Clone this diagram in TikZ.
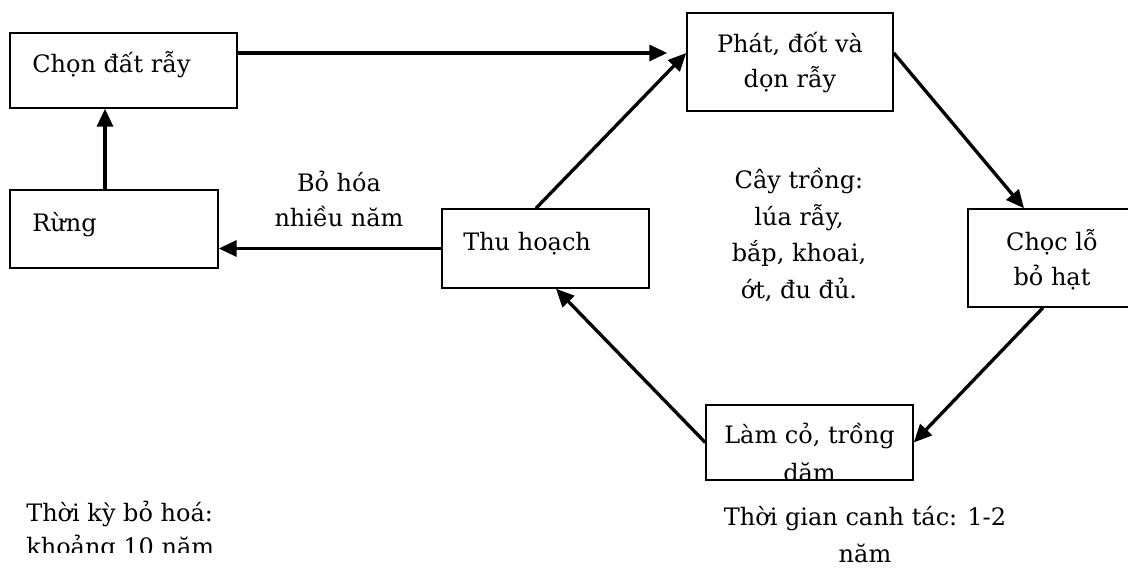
\documentclass[tikz,border=0pt]{standalone}
\usepackage{fontspec}
\setmainfont{DejaVu Serif}
\usetikzlibrary{arrows.meta,calc}
\begin{document}
\begin{tikzpicture}[x=0.75pt,y=-0.75pt]
\tikzset{
  box/.style={draw, line width=1.1pt, rectangle, inner sep=0pt},
  txt/.style={inner sep=0pt, font=\fontsize{18}{21}\selectfont},
  arr/.style={line width=2.5pt, -{Triangle[length=13.5pt,width=12pt]}},
}
\useasboundingbox (0,0) rectangle (1128,574);
\clip (0,0) rectangle (1128,574);
% boxes
\node[box, minimum width=170.25pt, minimum height=56.25pt] (chon) at (123.5,70.5) {};
\node[box, minimum width=154.5pt, minimum height=73.5pt] (phat) at (790,62) {};
\node[box, minimum width=156pt, minimum height=58.5pt] (rung) at (114,229) {};
\node[box, minimum width=155.25pt, minimum height=59.25pt] (thu) at (545.5,248.5) {};
\node[box, minimum width=126pt, minimum height=73.5pt] (choc) at (1052,258) {};
\node[box, minimum width=155.25pt, minimum height=56.25pt] (lam) at (809.5,442.5) {};
% box texts
\node[txt, anchor=base west] (tchon) at (32,73) {Chọn đất rẫy};
\node[txt, anchor=base] (tphat1) at (790,53) {Phát, đốt và};
\node[txt, anchor=base] (tphat2) at (790,88) {dọn rẫy};
\node[txt, anchor=base west] (trung) at (32,232) {Rừng};
\node[txt, anchor=base west] (tthu) at (463,250) {Thu hoạch};
\node[txt, anchor=base] (tchoc1) at (1052,250) {Chọc lỗ};
\node[txt, anchor=base] (tchoc2) at (1052,285) {bỏ hạt};
\node[txt, anchor=base] (tlam1) at (809.5,443) {Làm cỏ, trồng};
\begin{scope}
  \clip (706,405) rectangle (913,479);
  \node[txt, anchor=base] (tlam2) at (809.5,481) {dặm};
\end{scope}
% free labels
\node[txt, anchor=base] (bo1) at (339,192) {Bỏ hóa};
\node[txt, anchor=base] (bo2) at (339,227) {nhiều năm};
\node[txt, anchor=base] (cay1) at (799,189) {Cây trồng:};
\node[txt, anchor=base] (cay2) at (799,225) {lúa rẫy,};
\node[txt, anchor=base] (cay3) at (799,262) {bắp, khoai,};
\node[txt, anchor=base] (cay4) at (799,298) {ớt, đu đủ.};
\node[txt, anchor=base west] (ky1) at (26,521) {Thời kỳ bỏ hoá:};
\begin{scope}
  \clip (0,530) rectangle (400,552);
  \node[txt, anchor=base west] (ky2) at (26,555) {khoảng 10 năm};
\end{scope}
\node[txt, anchor=base] (gian1) at (865,525) {Thời gian canh tác: 1-2};
\node[txt, anchor=base] (gian2) at (865,562) {năm};
% connectors
\draw[arr] ($(chon.east)+(0,-17.5)$) -- ($(phat.west)+(-19,-9)$);
\draw[arr] ($(rung.north)+(-9,0)$) -- ($(chon.south)+(-18.5,0)$);
\draw[arr] (thu.west) -- (thu.west -| rung.east);
\draw[arr] ($(thu.north)+(-9.5,0)$) -- ($(phat.west)+(0,-9)$);
\draw[arr] ($(phat.east)+(0,-9)$) -- ($(choc.north)+(-28,0)$);
\draw[arr] ($(choc.south)+(-9,0)$) -- (lam.east);
\draw[arr] (lam.west) -- ($(thu.south)+(10.5,0)$);
\end{tikzpicture}
\end{document}
